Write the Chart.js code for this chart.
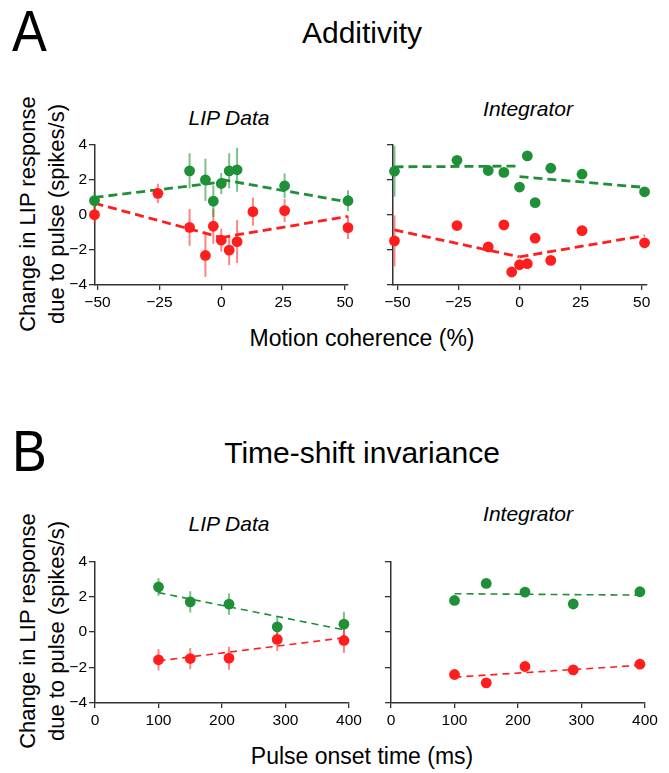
<!DOCTYPE html>
<html><head><meta charset="utf-8">
<script src="https://cdn.jsdelivr.net/npm/chart.js@4/dist/chart.umd.min.js"></script>
<style>
body{margin:0;background:#fff;width:669px;height:773px;position:relative;overflow:hidden;font-family:"Liberation Sans",Arial,sans-serif;}
.t{position:absolute;white-space:nowrap;color:#000;line-height:1;}
.c{transform:translateX(-50%);}
.i{font-style:italic;}
.yt{position:absolute;width:300px;height:58px;font-size:22px;line-height:29px;text-align:center;transform:rotate(-90deg);white-space:nowrap;}
canvas{position:absolute;}
</style></head><body>
<div class="t" style="left:12px;top:2px;font-size:58px;transform:scaleX(0.9);transform-origin:left top;">A</div>
<div class="t c" style="left:362px;top:18px;font-size:30px;">Additivity</div>
<div class="t c i" style="left:229px;top:107px;font-size:21px;">LIP Data</div>
<div class="t c i" style="left:528px;top:98px;font-size:21px;">Integrator</div>
<div class="yt" style="left:-108px;top:185px;">Change in LIP response<br>due to pulse (spikes/s)</div>
<div class="t c" style="left:362px;top:327px;font-size:23px;">Motion coherence (%)</div>

<div class="t" style="left:12px;top:422px;font-size:58px;transform:scaleX(0.9);transform-origin:left top;">B</div>
<div class="t c" style="left:362px;top:438px;font-size:30px;">Time-shift invariance</div>
<div class="t c i" style="left:229px;top:513px;font-size:21px;">LIP Data</div>
<div class="t c i" style="left:528px;top:503px;font-size:21px;">Integrator</div>
<div class="yt" style="left:-108px;top:602px;">Change in LIP response<br>due to pulse (spikes/s)</div>
<div class="t c" style="left:362px;top:745px;font-size:23px;">Pulse onset time (ms)</div>

<canvas id="cA1"></canvas><canvas id="cA2"></canvas><canvas id="cB1"></canvas><canvas id="cB2"></canvas>
<script>
// ---------- data ----------
const coherence = [-51.2, -25.6, -12.8, -6.4, -3.2, 0, 3.2, 6.4, 12.8, 25.6, 51.2];
const lipA_green     = [0.80, null, 2.49, 1.98, 0.77, 1.77, 2.49, 2.55, null, 1.64, 0.79];
const lipA_greenErr  = [0.50, null, 1.00, 1.20, 0.90, 0.60, 1.00, 1.25, null, 0.70, 0.60];
const lipA_red       = [0.00, 1.21, -0.72, -2.32, -0.66, -1.45, -2.02, -1.53, 0.17, 0.23, -0.74];
const lipA_redErr    = [0.50, 0.55, 1.05, 1.22, 1.00, 0.65, 0.85, 1.22, 0.80, 0.65, 0.65];
const intA_green     = [2.47, 3.09, 2.51, 2.40, null, 1.57, 3.34, 0.68, 2.64, 2.30, 1.30];
const intA_greenErr  = [1.45, 0.25, 0.10, 0.10, null, 0, 0, 0, 0.25, 0.25, 0.10];
const intA_red       = [-1.49, -0.62, -1.83, -0.58, -3.26, -2.85, -2.79, -1.34, -2.60, -0.91, -1.60];
const intA_redErr    = [1.45, 0.25, 0, 0, 0, 0, 0, 0, 0, 0.25, 0.10];
// piecewise fits: [x, y] endpoints of left and right segments
const lipA_greenFitL = [[-51.2, 0.98], [0, 1.85]];
const lipA_greenFitR = [[0, 2.00], [51.2, 0.72]];
const lipA_redFitL   = [[-51.2, 0.65], [0, -1.30]];
const lipA_redFitR   = [[0, -1.30], [51.2, -0.10]];
const intA_greenFitL = [[-51.2, 2.72], [0, 2.76]];
const intA_greenFitR = [[0, 2.16], [51.2, 1.55]];
const intA_redFitL   = [[-51.2, -0.87], [0, -2.40]];
const intA_redFitR   = [[0, -2.40], [51.2, -1.19]];

const onsetTime = [100, 150, 211, 287, 392];
const lipB_green    = [2.55, 1.71, 1.58, 0.30, 0.45];
const lipB_greenErr = [0.50, 0.60, 0.60, 0.60, 0.70];
const lipB_red      = [-1.56, -1.49, -1.47, -0.41, -0.47];
const lipB_redErr   = [0.60, 0.60, 0.65, 0.65, 0.70];
const intB_green    = [1.79, 2.75, 2.26, 1.59, 2.28];
const intB_red      = [-2.39, -2.86, -1.94, -2.13, -1.81];
const lipB_greenFit = [[100, 2.23], [392, 0.13]];
const lipB_redFit   = [[100, -1.62], [392, -0.32]];
const intB_greenFit = [[100, 2.17], [392, 2.09]];
const intB_redFit   = [[100, -2.54], [392, -1.87]];

const yTicks = [-4, -2, 0, 2, 4];
const xTicksA = [-50, -25, 0, 25, 50];
const xTicksB = [0, 100, 200, 300, 400];

// ---------- style ----------
const GREEN = '#1f8f38', RED = '#ff1d1d';
const GREEN_ERR = 'rgba(40,150,60,0.6)', RED_ERR = 'rgba(255,50,50,0.6)';
const AXIS = '#333';
const TICKFONT = {family: "'Liberation Sans',Arial,sans-serif", size: 15.5};

const errPlugin = {
  id: 'errbars',
  beforeDatasetsDraw(chart) {
    const ctx = chart.ctx, xs = chart.scales.x, ys = chart.scales.y;
    chart.data.datasets.forEach(ds => {
      if (!ds.errors) return;
      ctx.save();
      ctx.strokeStyle = ds.errorColor; ctx.lineWidth = 2;
      ds.data.forEach((p, j) => {
        const e = ds.errors[j];
        if (!e) return;
        const px = xs.getPixelForValue(p.x);
        ctx.beginPath();
        ctx.moveTo(px, ys.getPixelForValue(p.y - e));
        ctx.lineTo(px, ys.getPixelForValue(p.y + e));
        ctx.stroke();
      });
      ctx.restore();
    });
  }
};

function pts(xs, ys, errs) {
  const d = [], e = [];
  xs.forEach((x, i) => { if (ys[i] != null) { d.push({x, y: ys[i]}); e.push(errs ? errs[i] : 0); } });
  return {d, e};
}
function scatterDs(xs, ys, errs, color, errColor) {
  const p = pts(xs, ys, errs);
  return {type: 'scatter', data: p.d, errors: errs ? p.e : null, errorColor: errColor,
    backgroundColor: color, borderWidth: 0, pointRadius: 5.4, pointHoverRadius: 5.4, order: 0, clip: false};
}
function fitDs(seg, color, width, dash) {
  return {type: 'line', data: seg.map(s => ({x: s[0], y: s[1]})), borderColor: color, borderWidth: width,
    borderDash: dash, pointRadius: 0, fill: false, order: 1, clip: false, tension: 0};
}

function panel(id, area, xr, xTicks, showY, datasets) {
  const yW = 50, xH = 30, padT = 10, padR = 18, padB = 6;
  const cv = document.getElementById(id);
  const left = area.l - yW, top = area.t - padT;
  const w = area.r + padR - left, h = area.b + xH + padB - top;
  cv.width = w; cv.height = h;
  cv.style.left = left + 'px'; cv.style.top = top + 'px';
  cv.style.width = w + 'px'; cv.style.height = h + 'px';
  const fmt = v => String(v).replace('-', '\u2212');
  new Chart(cv, {
    data: {datasets},
    plugins: [errPlugin],
    options: {
      responsive: false, animation: false, devicePixelRatio: 1,
      layout: {padding: {left: 0, top: padT, right: padR, bottom: padB}},
      plugins: {legend: {display: false}, tooltip: {enabled: false}},
      scales: {
        x: {type: 'linear', min: xr[0], max: xr[1],
          afterBuildTicks: s => { s.ticks = xTicks.map(v => ({value: v})); },
          afterFit: s => { s.height = xH; },
          ticks: {font: TICKFONT, color: '#000', padding: 3, maxRotation: 0, callback: fmt},
          grid: {display: true, drawOnChartArea: false, drawTicks: true, tickLength: 5, color: AXIS, lineWidth: 1.3},
          border: {display: true, color: AXIS, width: 1.5}},
        y: {type: 'linear', min: -4, max: 4,
          afterBuildTicks: s => { s.ticks = yTicks.map(v => ({value: v})); },
          afterFit: s => { s.width = yW; },
          ticks: {font: TICKFONT, color: '#000', padding: 2, callback: v => showY ? fmt(v) : ''},
          grid: {display: true, drawOnChartArea: false, drawTicks: true, tickLength: 6, color: AXIS, lineWidth: 1.3},
          border: {display: true, color: AXIS, width: 1.5}}
      }
    }
  });
}

const dashA = [9, 5], dashB = [7, 5];
panel('cA1', {l: 95, r: 348, t: 143, b: 285}, [-51, 51.2], xTicksA, true, [
  scatterDs(coherence, lipA_red, lipA_redErr, RED, RED_ERR),
  scatterDs(coherence, lipA_green, lipA_greenErr, GREEN, GREEN_ERR),
  fitDs(lipA_greenFitL, GREEN, 2.8, dashA), fitDs(lipA_greenFitR, GREEN, 2.8, dashA),
  fitDs(lipA_redFitL, RED, 2.8, dashA), fitDs(lipA_redFitR, RED, 2.8, dashA)
]);
panel('cA2', {l: 393, r: 647, t: 143, b: 285}, [-51.8, 52.2], xTicksA, false, [
  scatterDs(coherence, intA_red, intA_redErr, RED, RED_ERR),
  scatterDs(coherence, intA_green, intA_greenErr, GREEN, GREEN_ERR),
  fitDs(intA_greenFitL, GREEN, 2.8, dashA), fitDs(intA_greenFitR, GREEN, 2.8, dashA),
  fitDs(intA_redFitL, RED, 2.8, dashA), fitDs(intA_redFitR, RED, 2.8, dashA)
]);
panel('cB1', {l: 95, r: 349, t: 560, b: 703}, [0, 400], xTicksB, true, [
  scatterDs(onsetTime, lipB_green, lipB_greenErr, GREEN, GREEN_ERR),
  scatterDs(onsetTime, lipB_red, lipB_redErr, RED, RED_ERR),
  fitDs(lipB_greenFit, GREEN, 1.6, dashB), fitDs(lipB_redFit, RED, 1.6, dashB)
]);
panel('cB2', {l: 391, r: 645, t: 560, b: 703}, [0, 400], xTicksB, false, [
  scatterDs(onsetTime, intB_green, null, GREEN, null),
  scatterDs(onsetTime, intB_red, null, RED, null),
  fitDs(intB_greenFit, GREEN, 1.6, dashB), fitDs(intB_redFit, RED, 1.6, dashB)
]);
</script>
</body></html>
